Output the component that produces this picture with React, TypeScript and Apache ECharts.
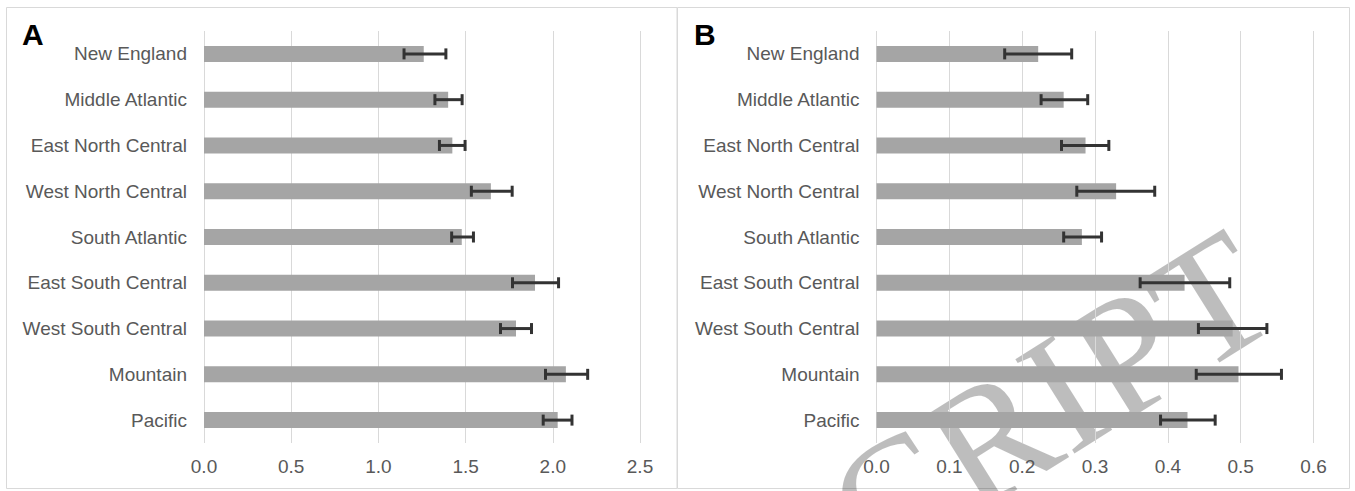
import React, { useEffect, useRef } from "react";
import * as echarts from "echarts";

const categories = [
  "New England",
  "Middle Atlantic",
  "East North Central",
  "West North Central",
  "South Atlantic",
  "East South Central",
  "West South Central",
  "Mountain",
  "Pacific",
];

const valuesA = [1.26, 1.4, 1.424, 1.645, 1.478, 1.898, 1.789, 2.075, 2.028];
const lowA = [1.147, 1.324, 1.35, 1.533, 1.42, 1.769, 1.7, 1.958, 1.945];
const highA = [1.387, 1.48, 1.497, 1.767, 1.545, 2.033, 1.878, 2.2, 2.11];

const valuesB = [0.222, 0.257, 0.287, 0.329, 0.282, 0.423, 0.489, 0.497, 0.427];
const lowB = [0.176, 0.226, 0.254, 0.275, 0.257, 0.362, 0.442, 0.439, 0.39];
const highB = [0.268, 0.29, 0.319, 0.382, 0.309, 0.485, 0.536, 0.556, 0.465];

const ticksA = { min: 0, max: 2.5, interval: 0.5 };
const ticksB = { min: 0, max: 0.6, interval: 0.1 };

const watermark = "MANUSCRIPT";

const FONT = "'Liberation Sans', Arial, sans-serif";
const LABEL_COLOR = "#595959";
const GRID_COLOR = "#d9d9d9";
const BAR_COLOR = "#a5a5a5";
const ERR_COLOR = "#333333";

function errData(low: number[], high: number[]) {
  return low.map((l, i) => [i, l, high[i]]);
}

function renderErr(params: any, api: any) {
  const idx = api.value(0);
  const lo = api.coord([api.value(1), idx]);
  const hi = api.coord([api.value(2), idx]);
  const h = 5.5;
  const style = { stroke: ERR_COLOR, lineWidth: 3 };
  return {
    type: "group",
    children: [
      { type: "line", shape: { x1: lo[0], y1: lo[1], x2: hi[0], y2: hi[1] }, style },
      { type: "line", shape: { x1: lo[0], y1: lo[1] - h, x2: lo[0], y2: lo[1] + h }, style },
      { type: "line", shape: { x1: hi[0], y1: hi[1] - h, x2: hi[0], y2: hi[1] + h }, style },
    ],
  };
}

function xAxisFor(gridIndex: number, t: { min: number; max: number; interval: number }) {
  return {
    type: "value",
    gridIndex,
    min: t.min,
    max: t.max,
    interval: t.interval,
    axisLine: { show: false },
    axisTick: { show: false },
    splitLine: { show: true, lineStyle: { color: GRID_COLOR, width: 1 } },
    axisLabel: {
      color: LABEL_COLOR,
      fontSize: 19,
      fontFamily: FONT,
      margin: 14,
      formatter: (v: number) => v.toFixed(1),
    },
  };
}

function yAxisFor(gridIndex: number) {
  return {
    type: "category",
    gridIndex,
    data: categories,
    inverse: true,
    axisLine: { show: false },
    axisTick: { show: false },
    splitLine: { show: false },
    axisLabel: { color: LABEL_COLOR, fontSize: 19, fontFamily: FONT, margin: 17 },
  };
}

export default function App() {
  const ref = useRef<HTMLDivElement>(null);
  useEffect(() => {
    if (!ref.current) return;
    const chart = echarts.init(ref.current, undefined, { renderer: "svg" });
    chart.setOption({
      animation: false,
      backgroundColor: "#ffffff",
      grid: [
        { left: 204, top: 31, width: 436, height: 412 },
        { left: 876.5, top: 31, width: 437, height: 412 },
      ],
      xAxis: [xAxisFor(0, ticksA), xAxisFor(1, ticksB)],
      yAxis: [yAxisFor(0), yAxisFor(1)],
      series: [
        {
          type: "bar",
          xAxisIndex: 0,
          yAxisIndex: 0,
          data: valuesA,
          barWidth: 16,
          itemStyle: { color: BAR_COLOR },
        },
        {
          type: "custom",
          xAxisIndex: 0,
          yAxisIndex: 0,
          data: errData(lowA, highA),
          encode: { y: 0, x: [1, 2] },
          renderItem: renderErr,
          z: 3,
        },
        {
          type: "bar",
          xAxisIndex: 1,
          yAxisIndex: 1,
          data: valuesB,
          barWidth: 16,
          itemStyle: { color: BAR_COLOR },
        },
        {
          type: "custom",
          xAxisIndex: 1,
          yAxisIndex: 1,
          data: errData(lowB, highB),
          encode: { y: 0, x: [1, 2] },
          renderItem: renderErr,
          z: 3,
        },
      ],
      graphic: [
        {
          type: "rect",
          shape: { x: 6.5, y: 7.5, width: 670.5, height: 481 },
          style: { fill: "none", stroke: GRID_COLOR, lineWidth: 1 },
          silent: true,
          z: -1,
        },
        {
          type: "rect",
          shape: { x: 677.5, y: 7.5, width: 672, height: 481 },
          style: { fill: "none", stroke: GRID_COLOR, lineWidth: 1 },
          silent: true,
          z: -1,
        },
        {
          type: "text",
          x: 22,
          y: 34,
          style: {
            text: "A",
            fill: "#000000",
            font: "bold 30px 'Liberation Sans', Arial, sans-serif",
            textAlign: "left",
            textVerticalAlign: "middle",
          },
        },
        {
          type: "text",
          x: 694,
          y: 34,
          style: {
            text: "B",
            fill: "#000000",
            font: "bold 30px 'Liberation Sans', Arial, sans-serif",
            textAlign: "left",
            textVerticalAlign: "middle",
          },
        },
        {
          type: "group",
          x: 1300,
          y: 345,
          rotation: 0.56,
          silent: true,
          z: 100,
          children: [
            {
              type: "text",
              x: 0,
              y: 0,
              style: {
                text: watermark,
                fill: "rgba(0,0,0,0.26)",
                font: "170px 'Liberation Serif', 'Times New Roman', serif",
                textAlign: "right",
                textVerticalAlign: "bottom",
              },
            },
          ],
        },
      ],
    });
    return () => chart.dispose();
  }, []);
  return (
    <div
      ref={ref}
      style={{ position: "fixed", left: 0, top: 0, width: 1355, height: 491 }}
    />
  );
}
